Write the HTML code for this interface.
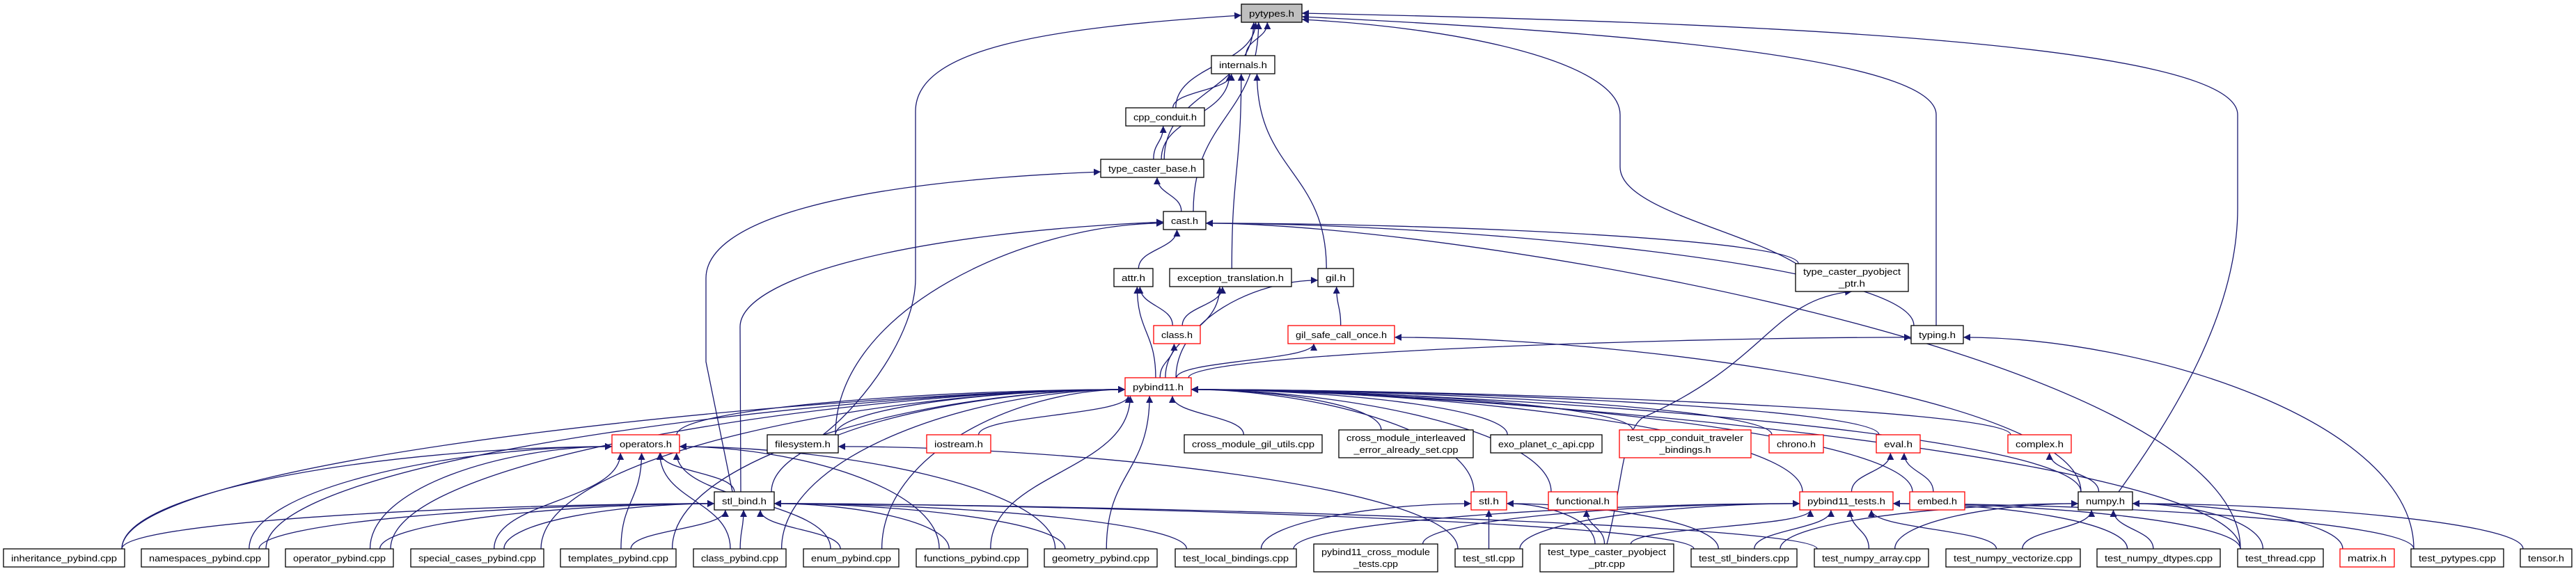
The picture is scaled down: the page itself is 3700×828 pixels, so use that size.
<!DOCTYPE html>
<html><head><meta charset="utf-8"><style>
html,body{margin:0;padding:0;background:#fff;}
svg{display:block;}
text{font-family:"Liberation Sans",sans-serif;font-size:13px;fill:#000;}
.n rect{fill:#fff;stroke:#000;stroke-width:1.3;}
.n.r rect{stroke:#ff0000;}
.e{fill:none;stroke:#191970;stroke-width:1.3;}
</style></head><body>
<svg id="s" width="3700" height="828" viewBox="0 0 3700 828" xmlns="http://www.w3.org/2000/svg">
<defs><marker id="a" viewBox="0 0 10 10" refX="10" refY="5" markerWidth="10" markerHeight="10" markerUnits="userSpaceOnUse" orient="auto"><path d="M0,0L10,5L0,10z" fill="#191970"/></marker></defs>
<g id="edges">
<path class="e" marker-end="url(#a)" d="M1182,625 C1240,580 1315,480 1315,400 L1315,160 C1315,70 1500,40 1783,22"/>
<path class="e" marker-end="url(#a)" d="M2781,468 L2781,165 C2781,80 2300,45 1870,24"/>
<path class="e" marker-end="url(#a)" d="M3043,707 C3120,600 3214,450 3214,300 L3214,165 C3214,60 2500,32 1870,19"/>
<path class="e" marker-end="url(#a)" d="M2580,379 C2500,330 2327,300 2327,240 L2327,165 C2327,90 2100,40 1870,28"/>
<path class="e" marker-end="url(#a)" d="M1052,707 L1014,520 L1014,400 C1014,320 1200,262 1581,247"/>
<path class="e" marker-end="url(#a)" d="M1064,707 L1063,470 C1063,400 1300,335 1671,319"/>
<path class="e" marker-end="url(#a)" d="M2308,782 C2330,700 2330,620 2360,600 C2540,520 2545,430 2660,419"/>
</g>
<g id="nodes">
<g class="n" id="py"><rect x="1783" y="6" width="87" height="26" style="fill:#bfbfbf"/><text x="1826.5" y="24" text-anchor="middle" textLength="65" lengthAdjust="spacingAndGlyphs">pytypes.h</text></g>
<g class="n" id="intl"><rect x="1740" y="80" width="91" height="26"/><text x="1785.5" y="98" text-anchor="middle" textLength="69" lengthAdjust="spacingAndGlyphs">internals.h</text></g>
<g class="n" id="cpc"><rect x="1617" y="155" width="113" height="26"/><text x="1673.5" y="173" text-anchor="middle" textLength="91" lengthAdjust="spacingAndGlyphs">cpp_conduit.h</text></g>
<g class="n" id="tcb"><rect x="1581" y="229" width="148" height="26"/><text x="1655" y="247" text-anchor="middle" textLength="126" lengthAdjust="spacingAndGlyphs">type_caster_base.h</text></g>
<g class="n" id="cast"><rect x="1671" y="304" width="61" height="26"/><text x="1701.5" y="322" text-anchor="middle" textLength="39" lengthAdjust="spacingAndGlyphs">cast.h</text></g>
<g class="n" id="attr"><rect x="1600" y="386" width="56" height="26"/><text x="1628" y="404" text-anchor="middle" textLength="34" lengthAdjust="spacingAndGlyphs">attr.h</text></g>
<g class="n" id="exc"><rect x="1680" y="386" width="175" height="26"/><text x="1767.5" y="404" text-anchor="middle" textLength="153" lengthAdjust="spacingAndGlyphs">exception_translation.h</text></g>
<g class="n" id="gil"><rect x="1893" y="386" width="51" height="26"/><text x="1918.5" y="404" text-anchor="middle" textLength="29" lengthAdjust="spacingAndGlyphs">gil.h</text></g>
<g class="n" id="tcph"><rect x="2579" y="379" width="162" height="40"/><text x="2660" y="395" text-anchor="middle" textLength="140" lengthAdjust="spacingAndGlyphs">type_caster_pyobject</text><text x="2660" y="412" text-anchor="middle" textLength="38" lengthAdjust="spacingAndGlyphs">_ptr.h</text></g>
<g class="n" id="typ"><rect x="2745" y="468" width="75" height="26"/><text x="2782.5" y="486" text-anchor="middle" textLength="53" lengthAdjust="spacingAndGlyphs">typing.h</text></g>
<g class="n r" id="cls"><rect x="1657" y="468" width="67" height="26"/><text x="1690.5" y="486" text-anchor="middle" textLength="45" lengthAdjust="spacingAndGlyphs">class.h</text></g>
<g class="n r" id="gsco"><rect x="1850" y="468" width="153" height="26"/><text x="1926.5" y="486" text-anchor="middle" textLength="131" lengthAdjust="spacingAndGlyphs">gil_safe_call_once.h</text></g>
<g class="n r" id="pb"><rect x="1616" y="543" width="95" height="26"/><text x="1663.5" y="561" text-anchor="middle" textLength="73" lengthAdjust="spacingAndGlyphs">pybind11.h</text></g>
<g class="n r" id="ops"><rect x="879" y="625" width="97" height="26"/><text x="927.5" y="643" text-anchor="middle" textLength="75" lengthAdjust="spacingAndGlyphs">operators.h</text></g>
<g class="n" id="fs"><rect x="1102" y="625" width="102" height="26"/><text x="1153" y="643" text-anchor="middle" textLength="80" lengthAdjust="spacingAndGlyphs">filesystem.h</text></g>
<g class="n r" id="ios"><rect x="1331" y="625" width="92" height="26"/><text x="1377" y="643" text-anchor="middle" textLength="70" lengthAdjust="spacingAndGlyphs">iostream.h</text></g>
<g class="n" id="cmgu"><rect x="1701" y="625" width="198" height="26"/><text x="1800" y="643" text-anchor="middle" textLength="176" lengthAdjust="spacingAndGlyphs">cross_module_gil_utils.cpp</text></g>
<g class="n" id="cmie"><rect x="1923" y="618" width="193" height="40"/><text x="2019.5" y="634" text-anchor="middle" textLength="171" lengthAdjust="spacingAndGlyphs">cross_module_interleaved</text><text x="2019.5" y="651" text-anchor="middle" textLength="150" lengthAdjust="spacingAndGlyphs">_error_already_set.cpp</text></g>
<g class="n" id="exo"><rect x="2141" y="625" width="160" height="26"/><text x="2221" y="643" text-anchor="middle" textLength="138" lengthAdjust="spacingAndGlyphs">exo_planet_c_api.cpp</text></g>
<g class="n r" id="tcctb"><rect x="2326" y="618" width="189" height="40"/><text x="2420.5" y="634" text-anchor="middle" textLength="167" lengthAdjust="spacingAndGlyphs">test_cpp_conduit_traveler</text><text x="2420.5" y="651" text-anchor="middle" textLength="74" lengthAdjust="spacingAndGlyphs">_bindings.h</text></g>
<g class="n r" id="chr"><rect x="2541" y="625" width="78" height="26"/><text x="2580" y="643" text-anchor="middle" textLength="56" lengthAdjust="spacingAndGlyphs">chrono.h</text></g>
<g class="n r" id="evl"><rect x="2695" y="625" width="63" height="26"/><text x="2726.5" y="643" text-anchor="middle" textLength="41" lengthAdjust="spacingAndGlyphs">eval.h</text></g>
<g class="n r" id="cpx"><rect x="2884" y="625" width="91" height="26"/><text x="2929.5" y="643" text-anchor="middle" textLength="69" lengthAdjust="spacingAndGlyphs">complex.h</text></g>
<g class="n" id="stlb"><rect x="1026" y="707" width="86" height="26"/><text x="1069" y="725" text-anchor="middle" textLength="64" lengthAdjust="spacingAndGlyphs">stl_bind.h</text></g>
<g class="n r" id="stl"><rect x="2113" y="707" width="51" height="26"/><text x="2138.5" y="725" text-anchor="middle" textLength="29" lengthAdjust="spacingAndGlyphs">stl.h</text></g>
<g class="n r" id="fnc"><rect x="2224" y="707" width="99" height="26"/><text x="2273.5" y="725" text-anchor="middle" textLength="77" lengthAdjust="spacingAndGlyphs">functional.h</text></g>
<g class="n r" id="pbt"><rect x="2585" y="707" width="134" height="26"/><text x="2652" y="725" text-anchor="middle" textLength="112" lengthAdjust="spacingAndGlyphs">pybind11_tests.h</text></g>
<g class="n r" id="emb"><rect x="2743" y="707" width="79" height="26"/><text x="2782.5" y="725" text-anchor="middle" textLength="57" lengthAdjust="spacingAndGlyphs">embed.h</text></g>
<g class="n" id="np"><rect x="2985" y="707" width="78" height="26"/><text x="3024" y="725" text-anchor="middle" textLength="56" lengthAdjust="spacingAndGlyphs">numpy.h</text></g>
<g class="n" id="inh"><rect x="5" y="789" width="174" height="26"/><text x="92" y="807" text-anchor="middle" textLength="152" lengthAdjust="spacingAndGlyphs">inheritance_pybind.cpp</text></g>
<g class="n" id="nsp"><rect x="203" y="789" width="183" height="26"/><text x="294.5" y="807" text-anchor="middle" textLength="161" lengthAdjust="spacingAndGlyphs">namespaces_pybind.cpp</text></g>
<g class="n" id="opp"><rect x="410" y="789" width="155" height="26"/><text x="487.5" y="807" text-anchor="middle" textLength="133" lengthAdjust="spacingAndGlyphs">operator_pybind.cpp</text></g>
<g class="n" id="spc"><rect x="590" y="789" width="191" height="26"/><text x="685.5" y="807" text-anchor="middle" textLength="169" lengthAdjust="spacingAndGlyphs">special_cases_pybind.cpp</text></g>
<g class="n" id="tpl"><rect x="805" y="789" width="166" height="26"/><text x="888" y="807" text-anchor="middle" textLength="144" lengthAdjust="spacingAndGlyphs">templates_pybind.cpp</text></g>
<g class="n" id="clp"><rect x="996" y="789" width="133" height="26"/><text x="1062.5" y="807" text-anchor="middle" textLength="111" lengthAdjust="spacingAndGlyphs">class_pybind.cpp</text></g>
<g class="n" id="enm"><rect x="1154" y="789" width="137" height="26"/><text x="1222.5" y="807" text-anchor="middle" textLength="115" lengthAdjust="spacingAndGlyphs">enum_pybind.cpp</text></g>
<g class="n" id="fnp"><rect x="1316" y="789" width="160" height="26"/><text x="1396" y="807" text-anchor="middle" textLength="138" lengthAdjust="spacingAndGlyphs">functions_pybind.cpp</text></g>
<g class="n" id="geo"><rect x="1500" y="789" width="162" height="26"/><text x="1581" y="807" text-anchor="middle" textLength="140" lengthAdjust="spacingAndGlyphs">geometry_pybind.cpp</text></g>
<g class="n" id="tlb"><rect x="1688" y="789" width="174" height="26"/><text x="1775" y="807" text-anchor="middle" textLength="152" lengthAdjust="spacingAndGlyphs">test_local_bindings.cpp</text></g>
<g class="n" id="pxm"><rect x="1887" y="782" width="178" height="40"/><text x="1976" y="798" text-anchor="middle" textLength="156" lengthAdjust="spacingAndGlyphs">pybind11_cross_module</text><text x="1976" y="815" text-anchor="middle" textLength="64" lengthAdjust="spacingAndGlyphs">_tests.cpp</text></g>
<g class="n" id="tst"><rect x="2090" y="789" width="97" height="26"/><text x="2138.5" y="807" text-anchor="middle" textLength="75" lengthAdjust="spacingAndGlyphs">test_stl.cpp</text></g>
<g class="n" id="ttc"><rect x="2212" y="782" width="192" height="40"/><text x="2308" y="798" text-anchor="middle" textLength="170" lengthAdjust="spacingAndGlyphs">test_type_caster_pyobject</text><text x="2308" y="815" text-anchor="middle" textLength="52" lengthAdjust="spacingAndGlyphs">_ptr.cpp</text></g>
<g class="n" id="tsb"><rect x="2429" y="789" width="152" height="26"/><text x="2505" y="807" text-anchor="middle" textLength="130" lengthAdjust="spacingAndGlyphs">test_stl_binders.cpp</text></g>
<g class="n" id="tna"><rect x="2606" y="789" width="164" height="26"/><text x="2688" y="807" text-anchor="middle" textLength="142" lengthAdjust="spacingAndGlyphs">test_numpy_array.cpp</text></g>
<g class="n" id="tnv"><rect x="2795" y="789" width="193" height="26"/><text x="2891.5" y="807" text-anchor="middle" textLength="171" lengthAdjust="spacingAndGlyphs">test_numpy_vectorize.cpp</text></g>
<g class="n" id="tnd"><rect x="3012" y="789" width="177" height="26"/><text x="3100.5" y="807" text-anchor="middle" textLength="155" lengthAdjust="spacingAndGlyphs">test_numpy_dtypes.cpp</text></g>
<g class="n" id="tth"><rect x="3214" y="789" width="123" height="26"/><text x="3275.5" y="807" text-anchor="middle" textLength="101" lengthAdjust="spacingAndGlyphs">test_thread.cpp</text></g>
<g class="n r" id="mat"><rect x="3361" y="789" width="78" height="26"/><text x="3400" y="807" text-anchor="middle" textLength="56" lengthAdjust="spacingAndGlyphs">matrix.h</text></g>
<g class="n" id="tpy"><rect x="3463" y="789" width="133" height="26"/><text x="3529.5" y="807" text-anchor="middle" textLength="111" lengthAdjust="spacingAndGlyphs">test_pytypes.cpp</text></g>
<g class="n" id="ten"><rect x="3620" y="789" width="74" height="26"/><text x="3657" y="807" text-anchor="middle" textLength="52" lengthAdjust="spacingAndGlyphs">tensor.h</text></g>
</g>
</svg>
<script>
(function(){
var E=[
["intl","py"],["cpc","py"],["tcb","py"],["cast","py"],
["cpc","intl"],["tcb","intl"],["exc","intl"],["gil","intl"],
["tcb","cpc"],["cast","tcb"],
["attr","cast"],["fs","cast"],["tcph","cast"],["typ","cast"],["tth","cast"],
["cls","attr"],["pb","attr"],["cls","exc"],["pb","exc"],["gsco","gil"],["pb","gil"],
["pb","gsco"],["np","gsco"],["pb","cls"],["pb","typ"],["tpy","typ"],
["ops","pb"],["fs","pb"],["ios","pb"],["cmgu","pb"],["cmie","pb"],["exo","pb"],["tcctb","pb"],
["chr","pb"],["evl","pb"],["cpx","pb"],["np","pb"],["emb","pb"],["pbt","pb"],["stl","pb"],["fnc","pb"],
["tth","pb"],["inh","pb"],["nsp","pb"],["opp","pb"],["spc","pb"],["tpl","pb"],["clp","pb"],["enm","pb"],
["fnp","pb"],["geo","pb"],["stlb","pb"],
["stlb","ops"],["inh","ops"],["nsp","ops"],["opp","ops"],["spc","ops"],["tpl","ops"],["clp","ops"],
["enm","ops"],["fnp","ops"],["geo","ops"],
["inh","stlb"],["nsp","stlb"],["opp","stlb"],["spc","stlb"],["tpl","stlb"],["clp","stlb"],["enm","stlb"],
["fnp","stlb"],["geo","stlb"],["tlb","stlb"],["tsb","stlb"],["tna","stlb"],
["tst","fs"],
["tlb","stl"],["tst","stl"],["ttc","stl"],["tsb","stl"],
["ttc","fnc"],["pbt","evl"],["emb","evl"],["np","cpx"],
["tlb","pbt"],["pxm","pbt"],["tst","pbt"],["ttc","pbt"],["tsb","pbt"],["tna","pbt"],["tnv","pbt"],
["tnd","pbt"],["tth","pbt"],["tpy","pbt"],
["tsb","np"],["tna","np"],["tnv","np"],["tnd","np"],["mat","np"],["ten","np"],["tth","np"]
];
function B(id){var r=document.getElementById(id).querySelector("rect");
return {x:+r.getAttribute("x"),y:+r.getAttribute("y"),w:+r.getAttribute("width"),h:+r.getAttribute("height")};}
var g=document.getElementById("edges"),ns="http://www.w3.org/2000/svg";
E.forEach(function(e){
var S=B(e[0]),T=B(e[1]);
var scx=S.x+S.w/2,tcx=T.x+T.w/2,dx=scx-tcx;
var so=-dx*0.1,lim=S.w/2-4;if(so>lim)so=lim;if(so<-lim)so=-lim;
var sx=scx+so,sy=S.y;
var off=dx*0.15,ex,ey,side=false;
if(Math.abs(off)<=T.w/2-4){ex=tcx+off;ey=T.y+T.h;}
else{side=true;ex=dx>0?T.x+T.w:T.x;ey=T.y+T.h*0.65;}
var dy=sy-ey,d;
if(side){var sg=dx>0?1:-1,c=Math.min(Math.abs(dx)*0.35,350);
d="M"+sx+","+sy+" C"+sx+","+(sy-dy*0.6)+" "+(ex+sg*c)+","+ey+" "+ex+","+ey;}
else{d="M"+sx+","+sy+" C"+sx+","+(sy-dy*0.5)+" "+ex+","+(ey+dy*0.5)+" "+ex+","+ey;}
var p=document.createElementNS(ns,"path");p.setAttribute("class","e");p.setAttribute("d",d);
p.setAttribute("marker-end","url(#a)");g.appendChild(p);
});
})();
</script>
</body></html>
